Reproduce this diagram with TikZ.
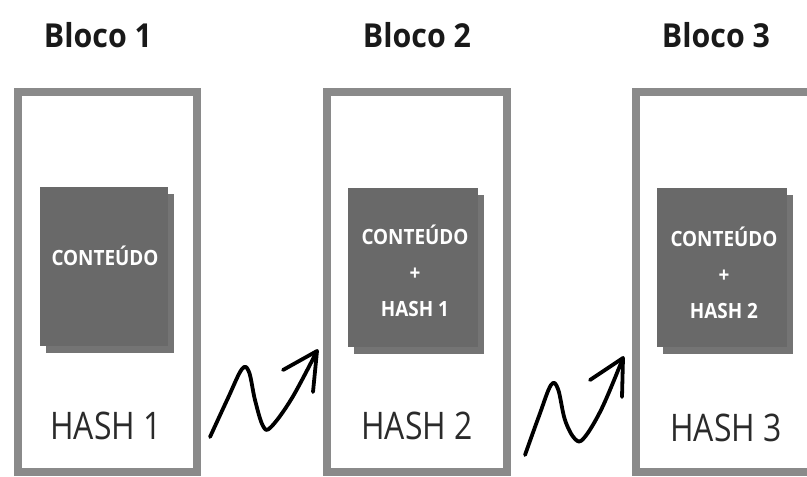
\documentclass[tikz,border=0pt]{standalone}
\usepackage{fontspec}
\setmainfont{Open Sans}
\newfontfamily\hashfont[FakeStretch=0.84]{Open Sans}
\newfontfamily\titlefont[FakeStretch=0.92]{Open Sans}
\newfontfamily\corefont[FakeStretch=0.9]{Open Sans}
\usetikzlibrary{shadows}
\definecolor{framegray}{HTML}{8A8A8A}
\definecolor{coregray}{HTML}{696969}
\definecolor{coreshade}{HTML}{747474}
\definecolor{hashtext}{HTML}{2A2A2A}
\tikzset{
  blockframe/.style={draw=framegray, line width=8pt, fill=white, minimum height=380pt},
  blocktitle/.style={font=\titlefont\bfseries\fontsize{33}{33}\selectfont, anchor=base, text=black!90},
  hashlabel/.style={font=\hashfont\fontsize{38}{38}\selectfont, text=hashtext, anchor=base},
  corebox/.style={fill=coregray, minimum width=130pt, minimum height=159pt, inner sep=0pt,
    drop shadow={shadow xshift=6pt, shadow yshift=-7pt, fill=coreshade, opacity=1}},
  coretext/.style={text=white, font=\corefont\bfseries\fontsize{21}{36}\selectfont, align=center, inner sep=0pt},
  squiggle/.style={line width=3.8pt, line cap=round, line join=round, black},
}
\begin{document}
\begin{tikzpicture}[x=1pt, y=-1pt]
\useasboundingbox (0,0) rectangle (807,477);
\clip (0,0) rectangle (807,477);

% frames
\node[blockframe, minimum width=179pt] (b1) at (107.5,282) {};
\node[blockframe, minimum width=180pt] (b2) at (417,282) {};
\node[blockframe, minimum width=180pt] (b3) at (726,282) {};

% titles
\node[blocktitle] (t1) at (98,47) {Bloco 1};
\node[blocktitle] (t2) at (417,47) {Bloco 2};
\node[blocktitle] (t3) at (716,47) {Bloco 3};

% content squares
\node[corebox, minimum width=128pt] (c1) at (104,266.5) {};
\node[corebox] (c2) at (413,267.5) {};
\node[corebox] (c3) at (722,267.5) {};

\node[coretext] (ct1) at (105,256) {CONTEÚDO};
\node[coretext] (ct2) at (415,271) {CONTEÚDO\\+\\HASH 1};
\node[coretext] (ct3) at (724,273) {CONTEÚDO\\+\\HASH 2};

% hash labels
\node[hashlabel] (h1) at (106,439) {HASH 1};
\node[hashlabel] (h2) at (417,439) {HASH 2};
\node[hashlabel] (h3) at (726,441) {HASH 3};

% squiggly arrows
\coordinate (a1s) at (210,437);
\coordinate (a1t) at (317,351);
\coordinate (a1l) at (283,370);
\coordinate (a1r) at (313,392);
\draw[squiggle] plot[smooth, tension=0.6] coordinates {(a1s) (228,398) (242,369) (249,372) (255,400) (263,426) (271,427) (292,398) (a1t)};
\draw[squiggle] (a1l) -- (a1t) -- (a1r);

\coordinate (a2s) at (525,455);
\coordinate (a2t) at (623,358);
\coordinate (a2l) at (590,380);
\coordinate (a2r) at (622,397);
\draw[squiggle] plot[smooth, tension=0.6] coordinates {(a2s) (539,416) (551,385) (558,389) (565,420) (575,439) (584,438) (602,408) (a2t)};
\draw[squiggle] (a2l) -- (a2t) -- (a2r);
\end{tikzpicture}
\end{document}
